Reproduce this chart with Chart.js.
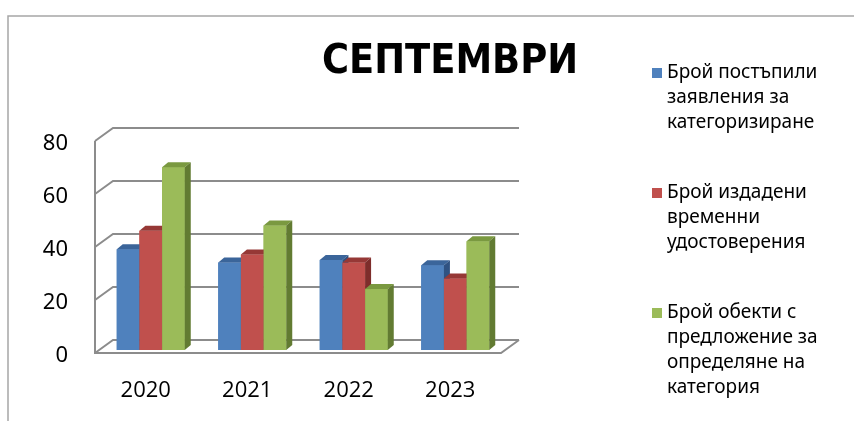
<!DOCTYPE html>
<html lang="bg">
<head>
<meta charset="utf-8">
<title>СЕПТЕМВРИ</title>
<script src="https://cdn.jsdelivr.net/npm/chart.js@4.4.1/dist/chart.umd.min.js"></script>
<style>
  html, body { margin: 0; padding: 0; background: #fff; }
  #wrap { width: 854px; height: 421px; position: relative; }
</style>
</head>
<body>
<div id="wrap"><canvas id="chart" lang="bg"></canvas></div>
<script>
const years = ['2020', '2021', '2022', '2023'];
const submitted = [38, 33, 34, 32];
const issued = [45, 36, 33, 27];
const proposed = [69, 47, 23, 41];

const seriesNames = [
  'Брой постъпили заявления за категоризиране',
  'Брой издадени временни удостоверения',
  'Брой обекти с предложение за определяне на категория'
];
const legendLines = [
  ['Брой постъпили', 'заявления за', 'категоризиране'],
  ['Брой издадени', 'временни', 'удостоверения'],
  ['Брой обекти с', 'предложение за', 'определяне на', 'категория']
];
const title = 'СЕПТЕМВРИ';

// face colours: front, top, side
const shades = [
  ['#4f81bd', '#3b659a', '#2f5282'],
  ['#c0504d', '#963836', '#7e2d2b'],
  ['#9bbb59', '#7a9940', '#627b32']
];

// 3d offsets relative to the bar plane
const barDepth = { x: 6, y: -5 };
const backWall = { x: 13, y: -10 };
const frontEdge = { x: -5, y: 3 };

const fake3d = {
  id: 'fake3d',
  beforeDraw(chart) {
    const ctx = chart.ctx;
    ctx.save();
    ctx.strokeStyle = '#a6a6a6';
    ctx.lineWidth = 1.5;
    ctx.beginPath();
    ctx.moveTo(8, chart.height);
    ctx.lineTo(8, 16);
    ctx.lineTo(chart.width, 16);
    ctx.stroke();
    ctx.restore();
  },
  beforeDatasetsDraw(chart) {
    const { ctx, chartArea: a } = chart;
    const y = chart.scales.y;
    ctx.save();
    ctx.strokeStyle = '#8c8c8c';
    ctx.lineWidth = 2;
    y.ticks.forEach(t => {
      const py = y.getPixelForValue(t.value);
      ctx.beginPath();
      ctx.moveTo(a.left + frontEdge.x, py + frontEdge.y);
      ctx.lineTo(a.left + backWall.x, py + backWall.y);
      ctx.lineTo(a.right + backWall.x, py + backWall.y);
      ctx.stroke();
    });
    const top = y.getPixelForValue(y.max);
    ctx.beginPath();
    ctx.moveTo(a.left + frontEdge.x, top + frontEdge.y);
    ctx.lineTo(a.left + frontEdge.x, a.bottom + frontEdge.y);
    ctx.lineTo(a.right + frontEdge.x, a.bottom + frontEdge.y);
    ctx.lineTo(a.right + backWall.x, a.bottom + backWall.y);
    ctx.stroke();
    ctx.restore();
  },
  afterDatasetsDraw(chart) {
    const ctx = chart.ctx;
    ctx.save();
    // repaint bars left to right so each side face sits under the next bar
    years.forEach((_, i) => {
      chart.data.datasets.forEach((ds, d) => {
        const el = chart.getDatasetMeta(d).data[i];
        const { x, y, base, width } = el.getProps(['x', 'y', 'base', 'width'], true);
        const l = x - width / 2, r = x + width / 2;
        const [cf, ct, cs] = shades[d];
        ctx.fillStyle = cf;
        ctx.fillRect(l, y, width, base - y);
        ctx.fillStyle = ct;
        ctx.beginPath();
        ctx.moveTo(l, y);
        ctx.lineTo(r, y);
        ctx.lineTo(r + barDepth.x, y + barDepth.y);
        ctx.lineTo(l + barDepth.x, y + barDepth.y);
        ctx.closePath();
        ctx.fill();
        ctx.fillStyle = cs;
        ctx.beginPath();
        ctx.moveTo(r, y);
        ctx.lineTo(r + barDepth.x, y + barDepth.y);
        ctx.lineTo(r + barDepth.x, base + barDepth.y);
        ctx.lineTo(r, base);
        ctx.closePath();
        ctx.fill();
      });
    });
    ctx.restore();
  },
  afterDraw(chart) {
    const ctx = chart.ctx;
    ctx.save();
    if ('lang' in ctx) ctx.lang = 'bg';
    ctx.fillStyle = '#000';
    ctx.textAlign = 'center';
    ctx.textBaseline = 'middle';
    ctx.font = 'bold 41px "DejaVu Sans Condensed", "DejaVu Sans"';
    ctx.fillText(title, 450, 62);

    ctx.textAlign = 'left';
    ctx.font = '19px "Noto Sans"';
    const starts = [73, 193, 313];
    legendLines.forEach((lines, k) => {
      ctx.fillStyle = shades[k][0];
      ctx.fillRect(652, starts[k] - 5, 10, 10);
      ctx.fillStyle = '#000';
      lines.forEach((s, j) => ctx.fillText(s, 667, starts[k] + j * 25));
    });
    ctx.restore();
  }
};

new Chart(document.getElementById('chart'), {
  type: 'bar',
  data: {
    labels: years,
    datasets: [
      { label: seriesNames[0], data: submitted, backgroundColor: shades[0][0] },
      { label: seriesNames[1], data: issued, backgroundColor: shades[1][0] },
      { label: seriesNames[2], data: proposed, backgroundColor: shades[2][0] }
    ]
  },
  options: {
    responsive: true,
    maintainAspectRatio: false,
    animation: false,
    categoryPercentage: 0.67,
    barPercentage: 1,
    layout: { padding: { top: 138, right: 348, bottom: 0, left: 0 } },
    plugins: {
      legend: { display: false },
      tooltip: { enabled: false }
    },
    scales: {
      x: {
        grid: { display: false, drawTicks: false },
        border: { display: false },
        ticks: {
          color: '#000',
          font: { family: 'Open Sans', size: 22 },
          padding: 28,
          labelOffset: -5
        },
        afterFit(s) { s.height = 71; }
      },
      y: {
        min: 0,
        max: 80,
        grid: { display: false, drawTicks: false },
        border: { display: false },
        ticks: {
          stepSize: 20,
          color: '#000',
          font: { family: 'Noto Sans', size: 22 },
          padding: 32,
          labelOffset: 6
        },
        afterFit(s) { s.width = 100; }
      }
    }
  },
  plugins: [fake3d]
});
</script>
</body>
</html>
